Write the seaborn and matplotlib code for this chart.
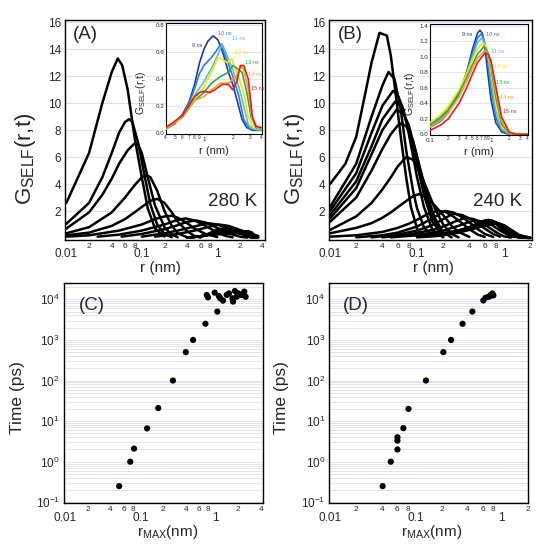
import numpy as np
import pandas as pd
import matplotlib
matplotlib.use("Agg")
import matplotlib.pyplot as plt
import matplotlib.ticker as mticker
import seaborn as sns

# ---------------------------------------------------------------------
# Data
# ---------------------------------------------------------------------
# (A) 280 K, main panel: G_self(r,t) curves, short times
a_r = [
    [0.01, 0.02, 0.03, 0.04, 0.048, 0.055, 0.065, 0.08, 0.1, 0.12, 0.15, 0.2],
    [0.01, 0.02, 0.03, 0.04, 0.05, 0.06, 0.068, 0.075, 0.09, 0.11, 0.13, 0.16, 0.2, 0.25],
    [0.01, 0.02, 0.03, 0.04, 0.05, 0.065, 0.08, 0.09, 0.1, 0.12, 0.15, 0.2, 0.25, 0.3],
    [0.01, 0.02, 0.04, 0.06, 0.08, 0.1, 0.115, 0.13, 0.16, 0.2, 0.25, 0.3, 0.4],
    [0.01, 0.02, 0.04, 0.06, 0.08, 0.1, 0.13, 0.16, 0.2, 0.25, 0.3, 0.4, 0.5, 0.6],
    [0.01, 0.02, 0.05, 0.1, 0.15, 0.2, 0.25, 0.3, 0.4, 0.5, 0.7, 1.0],
    [0.026, 0.05, 0.1, 0.2, 0.3, 0.38, 0.5, 0.7, 1.0, 1.3, 1.6],
    [0.054, 0.1, 0.2, 0.3, 0.4, 0.52, 0.7, 1.0, 1.4, 2.0, 2.5],
    [0.1, 0.2, 0.3, 0.5, 0.75, 1.0, 1.5, 2.0, 2.7, 3.4],
    [0.15, 0.3, 0.5, 0.8, 1.05, 1.4, 2.0, 2.7, 3.5],
]
a_g = [
    [2.6, 6.3, 10.0, 12.3, 13.3, 12.8, 11.0, 7.5, 4.5, 2.2, 0.7, 0.1],
    [1.05, 2.6, 4.5, 6.3, 7.8, 8.6, 8.8, 8.6, 7.0, 4.5, 2.5, 1.0, 0.3, 0.05],
    [0.7, 1.9, 3.2, 4.4, 5.5, 6.5, 7.0, 6.9, 6.3, 4.5, 2.4, 0.8, 0.25, 0.05],
    [0.35, 0.8, 1.9, 3.0, 3.9, 4.5, 4.65, 4.5, 3.5, 2.0, 0.9, 0.35, 0.05],
    [0.2, 0.4, 0.9, 1.4, 1.9, 2.3, 2.75, 2.9, 2.6, 1.9, 1.2, 0.5, 0.15, 0.03],
    [0.1, 0.2, 0.55, 1.0, 1.4, 1.6, 1.65, 1.5, 1.1, 0.7, 0.3, 0.07],
    [0.1, 0.25, 0.55, 1.0, 1.35, 1.45, 1.3, 0.9, 0.4, 0.15, 0.05],
    [0.1, 0.3, 0.65, 0.95, 1.2, 1.3, 1.15, 0.75, 0.35, 0.1, 0.03],
    [0.1, 0.35, 0.55, 0.85, 1.1, 1.0, 0.65, 0.35, 0.12, 0.05],
    [0.1, 0.3, 0.55, 0.85, 1.0, 0.9, 0.6, 0.35, 0.15],
]

# (A) inset, 9 ns ... 15 ns
ns_labels = ["9 ns", "10 ns", "11 ns", "12 ns", "13 ns", "14 ns", "15 ns"]
ns_colors = ["#27379b", "#2f7fd6", "#4fc0e8", "#f2e200", "#2ea84a", "#f5a623", "#e0201b"]
ia_r = [
    [0.4, 0.5, 0.6, 0.7, 0.8, 0.9, 1.0, 1.1, 1.25, 1.4, 1.6, 1.8, 2.0, 2.2, 2.5, 2.8, 3.2, 4.0],
    [0.4, 0.6, 0.7, 0.8, 0.9, 1.0, 1.2, 1.35, 1.5, 1.7, 2.0, 2.3, 2.6, 3.0, 4.0],
    [0.4, 0.6, 0.8, 1.0, 1.2, 1.4, 1.55, 1.8, 2.0, 2.3, 2.6, 2.9, 3.3, 4.0],
    [0.4, 0.6, 0.8, 1.0, 1.2, 1.4, 1.6, 1.75, 1.95, 2.2, 2.6, 2.9, 3.3, 4.0],
    [0.4, 0.6, 0.8, 1.0, 1.2, 1.5, 1.8, 2.0, 2.2, 2.5, 2.8, 3.1, 3.5, 4.0],
    [0.4, 0.6, 0.8, 1.0, 1.2, 1.5, 1.8, 2.0, 2.2, 2.4, 2.6, 2.9, 3.2, 3.6, 4.0],
    [0.4, 0.6, 0.8, 0.9, 1.0, 1.15, 1.3, 1.55, 1.8, 2.0, 2.2, 2.4, 2.6, 2.9, 3.2, 3.5, 4.0],
]
ia_g = [
    [0.03, 0.07, 0.14, 0.23, 0.36, 0.52, 0.62, 0.68, 0.72, 0.69, 0.58, 0.45, 0.36, 0.25, 0.1, 0.04, 0.02, 0.02],
    [0.03, 0.13, 0.22, 0.33, 0.44, 0.5, 0.56, 0.61, 0.66, 0.56, 0.42, 0.28, 0.1, 0.03, 0.02],
    [0.03, 0.12, 0.28, 0.38, 0.48, 0.58, 0.66, 0.55, 0.47, 0.35, 0.2, 0.06, 0.03, 0.02],
    [0.03, 0.12, 0.25, 0.34, 0.45, 0.56, 0.54, 0.52, 0.55, 0.45, 0.3, 0.12, 0.04, 0.03],
    [0.03, 0.12, 0.24, 0.3, 0.37, 0.42, 0.45, 0.5, 0.48, 0.45, 0.3, 0.12, 0.04, 0.03],
    [0.03, 0.12, 0.24, 0.27, 0.32, 0.37, 0.37, 0.4, 0.42, 0.5, 0.47, 0.32, 0.1, 0.04, 0.03],
    [0.04, 0.13, 0.27, 0.3, 0.31, 0.3, 0.32, 0.36, 0.36, 0.32, 0.38, 0.5, 0.5, 0.4, 0.12, 0.05, 0.04],
]
ia_lab_r = [0.86, 1.64, 2.28, 2.48, 3.12, 3.39, 3.62]
ia_lab_g = [0.65, 0.74, 0.70, 0.60, 0.52, 0.43, 0.33]

# (B) 240 K, main panel
b_r = [
    [0.01, 0.015, 0.02, 0.025, 0.03, 0.037, 0.045, 0.05, 0.056, 0.065, 0.075, 0.085, 0.1, 0.12],
    [0.01, 0.02, 0.03, 0.04, 0.047, 0.055, 0.065, 0.075, 0.09, 0.1, 0.12, 0.15],
    [0.01, 0.02, 0.03, 0.04, 0.053, 0.06, 0.07, 0.08, 0.1, 0.12, 0.15, 0.2],
    [0.01, 0.02, 0.03, 0.04, 0.056, 0.065, 0.08, 0.1, 0.12, 0.15, 0.2],
    [0.01, 0.02, 0.03, 0.04, 0.058, 0.07, 0.08, 0.1, 0.12, 0.15, 0.2],
    [0.01, 0.02, 0.03, 0.04, 0.05, 0.063, 0.075, 0.09, 0.11, 0.13, 0.16, 0.2, 0.25],
    [0.01, 0.02, 0.03, 0.04, 0.05, 0.06, 0.075, 0.09, 0.11, 0.13, 0.16, 0.2, 0.25, 0.3],
    [0.01, 0.02, 0.03, 0.04, 0.05, 0.07, 0.09, 0.105, 0.12, 0.15, 0.2, 0.25, 0.3, 0.4],
    [0.01, 0.02, 0.04, 0.06, 0.08, 0.1, 0.13, 0.17, 0.21, 0.26, 0.3, 0.4, 0.5, 0.6],
    [0.02, 0.04, 0.06, 0.1, 0.15, 0.21, 0.26, 0.33, 0.4, 0.5, 0.6, 0.75],
    [0.03, 0.06, 0.1, 0.15, 0.2, 0.26, 0.33, 0.4, 0.5, 0.6, 0.75, 0.9],
    [0.04, 0.08, 0.15, 0.2, 0.28, 0.36, 0.45, 0.55, 0.7, 0.85, 1.0, 1.2],
    [0.05, 0.1, 0.2, 0.3, 0.4, 0.47, 0.6, 0.75, 0.9, 1.1, 1.3],
]
b_g = [
    [4.0, 5.5, 7.5, 10.5, 13.0, 15.2, 15.0, 13.5, 11.0, 7.5, 4.5, 2.3, 0.7, 0.1],
    [2.3, 5.5, 9.0, 11.3, 12.3, 11.8, 9.5, 6.5, 3.5, 2.2, 0.8, 0.15],
    [2.0, 4.8, 7.8, 9.8, 10.9, 10.6, 9.5, 7.8, 4.5, 2.3, 0.6, 0.05],
    [1.7, 4.2, 6.8, 8.8, 10.1, 9.8, 8.2, 5.5, 3.2, 1.2, 0.15],
    [1.45, 3.7, 6.2, 8.0, 9.5, 9.2, 8.4, 6.0, 3.8, 1.6, 0.25],
    [1.2, 3.0, 5.0, 6.6, 7.7, 8.5, 8.3, 7.2, 5.0, 3.2, 1.5, 0.4, 0.05],
    [0.6, 1.6, 2.6, 3.6, 4.5, 5.3, 6.0, 5.8, 4.8, 3.6, 2.2, 1.0, 0.3, 0.05],
    [0.35, 0.75, 1.1, 1.5, 1.9, 2.6, 3.1, 3.25, 3.1, 2.6, 1.7, 0.9, 0.45, 0.08],
    [0.1, 0.2, 0.45, 0.75, 1.05, 1.35, 1.75, 2.0, 1.95, 1.6, 1.3, 0.65, 0.25, 0.08],
    [0.05, 0.2, 0.4, 0.85, 1.45, 2.0, 1.9, 1.55, 1.15, 0.65, 0.3, 0.08],
    [0.05, 0.25, 0.55, 0.95, 1.4, 1.8, 1.7, 1.45, 1.05, 0.7, 0.3, 0.1],
    [0.05, 0.25, 0.6, 0.85, 1.25, 1.5, 1.4, 1.15, 0.7, 0.35, 0.12, 0.03],
    [0.05, 0.2, 0.55, 0.9, 1.2, 1.3, 1.2, 0.9, 0.55, 0.25, 0.08],
]

# (B) inset, 9 ns ... 15 ns
ib_r = [
    [0.1, 0.15, 0.2, 0.3, 0.4, 0.5, 0.6, 0.66, 0.72, 0.8, 0.9, 1.0, 1.2, 1.5, 2.0, 4.0],
    [0.1, 0.15, 0.2, 0.3, 0.4, 0.5, 0.6, 0.69, 0.75, 0.85, 1.0, 1.2, 1.5, 2.0, 4.0],
    [0.1, 0.15, 0.2, 0.3, 0.4, 0.5, 0.6, 0.71, 0.8, 0.9, 1.0, 1.2, 1.5, 2.0, 4.0],
    [0.1, 0.15, 0.2, 0.3, 0.4, 0.5, 0.6, 0.74, 0.85, 1.0, 1.2, 1.5, 2.0, 4.0],
    [0.1, 0.15, 0.2, 0.3, 0.4, 0.5, 0.6, 0.77, 0.9, 1.0, 1.2, 1.5, 2.0, 4.0],
    [0.1, 0.15, 0.2, 0.3, 0.4, 0.5, 0.6, 0.8, 0.9, 1.0, 1.2, 1.5, 2.0, 4.0],
    [0.1, 0.15, 0.2, 0.3, 0.4, 0.5, 0.6, 0.8, 0.9, 1.0, 1.2, 1.5, 2.0, 2.5, 4.0],
]
ib_g = [
    [0.09, 0.17, 0.28, 0.52, 0.8, 1.1, 1.3, 1.34, 1.3, 1.1, 0.75, 0.45, 0.15, 0.03, 0.0, 0.0],
    [0.1, 0.19, 0.3, 0.53, 0.79, 1.05, 1.24, 1.29, 1.25, 1.05, 0.6, 0.22, 0.05, 0.0, 0.0],
    [0.12, 0.22, 0.32, 0.54, 0.78, 1.0, 1.18, 1.24, 1.18, 1.0, 0.72, 0.3, 0.07, 0.01, 0.0],
    [0.15, 0.25, 0.36, 0.57, 0.78, 0.97, 1.1, 1.18, 1.12, 0.82, 0.4, 0.1, 0.01, 0.0],
    [0.12, 0.22, 0.32, 0.53, 0.73, 0.9, 1.03, 1.13, 1.05, 0.88, 0.48, 0.13, 0.01, 0.0],
    [0.09, 0.18, 0.28, 0.48, 0.68, 0.85, 0.98, 1.08, 1.04, 0.92, 0.55, 0.17, 0.02, 0.0],
    [0.05, 0.12, 0.2, 0.4, 0.6, 0.78, 0.92, 1.05, 1.03, 0.95, 0.62, 0.22, 0.03, 0.0, 0.0],
]
ib_lab_r = [0.40, 1.09, 1.31, 1.45, 1.59, 1.81, 2.05]
ib_lab_g = [1.29, 1.28, 1.06, 0.87, 0.67, 0.47, 0.30]

# (C) 280 K: r_max vs time
c_rmax = [0.052, 0.073, 0.082, 0.122, 0.172, 0.27, 0.40, 0.50, 0.73, 1.05,
          0.76, 0.79, 0.97, 1.1, 1.15, 1.25, 1.4, 1.5, 1.67, 1.7, 1.8, 1.9,
          2.0, 2.2, 2.4, 2.5]
c_time = [0.25, 1.0, 2.1, 6.6, 21, 100, 500, 1000, 2500, 5000,
          12800, 11200, 14600, 12000, 10600, 9300, 12800, 14000, 10600, 8800,
          16000, 11600, 14000, 12800, 15500, 11600]

# (D) 240 K: r_max vs time
d_rmax = [0.041, 0.051, 0.061, 0.061, 0.061, 0.0715, 0.082, 0.131, 0.209, 0.257,
          0.35, 0.455, 0.61, 0.65, 0.70, 0.73, 0.75, 0.78, 0.80]
d_time = [0.25, 1.0, 2.0, 3.3, 4.0, 6.7, 20, 100, 500, 1000,
          2500, 5000, 9400, 11000, 11500, 12000, 13000, 14000, 12500]

# ---------------------------------------------------------------------
# Style
# ---------------------------------------------------------------------
sns.set_style("white")
plt.rcParams["font.family"] = ["Liberation Sans", "DejaVu Sans"]
plt.rcParams["mathtext.fontset"] = "custom"
plt.rcParams["mathtext.rm"] = "Liberation Sans"
plt.rcParams["mathtext.it"] = "Liberation Sans:italic"
plt.rcParams["mathtext.default"] = "regular"

GRID = "#dcdfee"


def minor_even(v, pos):
    d = int(round(v / 10 ** np.floor(np.log10(v) + 1e-9)))
    return str(d) if d in (2, 4, 6, 8) else ""


def minor_all(v, pos):
    d = int(round(v / 10 ** np.floor(np.log10(v) + 1e-9)))
    return str(d) if d != 1 else ""


def log_x(ax, fmt, major_size=8.5, minor_size=6, length=3, major_pad=6, minor_pad=2):
    ax.set_xscale("log")
    ax.xaxis.set_major_locator(mticker.LogLocator(base=10, numticks=10))
    ax.xaxis.set_major_formatter(mticker.FuncFormatter(lambda v, p: "%g" % v))
    ax.xaxis.set_minor_locator(mticker.LogLocator(base=10, subs=np.arange(2, 10), numticks=20))
    ax.xaxis.set_minor_formatter(mticker.FuncFormatter(fmt))
    ax.tick_params(axis="x", which="major", labelsize=major_size, direction="in",
                   length=length + 1, width=0.8, pad=major_pad)
    ax.tick_params(axis="x", which="minor", labelsize=minor_size, direction="in",
                   length=length, width=0.6, pad=minor_pad)


def frame(ax, lw=1.0):
    for s in ax.spines.values():
        s.set_visible(True)
        s.set_color("black")
        s.set_linewidth(lw)


def long_df(rs, gs, names=None, rmax=None):
    rows = []
    for i, (rr, gg) in enumerate(zip(rs, gs)):
        name = names[i] if names else i
        for r, g in zip(rr, gg):
            if rmax is None or r <= rmax:
                rows.append((name, r, g))
    return pd.DataFrame(rows, columns=["curve", "r", "G"])


fig = plt.figure(figsize=(5.5, 5.46), dpi=100)
axA = fig.add_axes([0.1182, 0.5604, 0.3636, 0.4029])
axB = fig.add_axes([0.5987, 0.5604, 0.3680, 0.4029])
axC = fig.add_axes([0.1164, 0.0782, 0.3624, 0.4029])
axD = fig.add_axes([0.5987, 0.0782, 0.3618, 0.4029])
inA = fig.add_axes([0.3013, 0.7546, 0.1745, 0.2033])
inB = fig.add_axes([0.7818, 0.7527, 0.1776, 0.2033])

# ---------------------------------------------------------------------
# (A) and (B) main panels
# ---------------------------------------------------------------------
panels = [
    (axA, a_r + ia_r, a_g + ia_g, 3.5, (0.0096, 4.3), "(A)", "280 K", 0.96, -0.135, 0.475),
    (axB, b_r + ib_r, b_g + ib_g, 2.0, (0.0098, 2.08), "(B)", "240 K", 0.952, -0.11, 0.515),
]
for ax, rs, gs, rlim, xl, tag, temp, tx, ylx, xlx in panels:
    frame(ax)
    ax.set_xscale("log")
    for y in range(2, 17, 2):
        ax.axhline(y, color=GRID, lw=0.8, zorder=0)
    df = long_df(rs, gs, rmax=rlim)
    sns.lineplot(data=df, x="r", y="G", units="curve", estimator=None, sort=False,
                 color="black", lw=1.8, legend=False, ax=ax, zorder=3)
    log_x(ax, minor_even)
    ax.set_xlim(*xl)
    ax.set_ylim(-0.15, 16.15)
    ax.set_yticks(range(2, 17, 2))
    ax.tick_params(axis="y", labelsize=8.5, direction="in", length=4, width=0.8, pad=3)
    ax.set_xlabel("r (nm)", fontsize=11)
    ax.xaxis.set_label_coords(xlx, -0.095)
    ax.set_ylabel(r"G$_{\mathregular{SELF}}$(r,t)", fontsize=16)
    ax.yaxis.set_label_coords(ylx, 0.37)
    ax.text(0.04, 0.975, tag, transform=ax.transAxes, fontsize=13.5, ha="left", va="top")
    ax.text(tx, 0.173, temp, transform=ax.transAxes, fontsize=13.5, ha="right", va="center")

# ---------------------------------------------------------------------
# insets
# ---------------------------------------------------------------------
insets = [
    (inA, ia_r, ia_g, ia_lab_r, ia_lab_g, (0.4, 4.0), (-0.007, 0.815), np.arange(0, 0.81, 0.2), -0.18),
    (inB, ib_r, ib_g, ib_lab_r, ib_lab_g, (0.1, 4.0), (-0.009, 1.42), np.arange(0, 1.41, 0.2), -0.13),
]
pal = dict(zip(ns_labels, ns_colors))
for ax, rs, gs, lr, lg, xl, yl, yt, ylx in insets:
    ax.set_facecolor("white")
    frame(ax, 0.8)
    ax.set_xscale("log")
    for y in yt[1:]:
        ax.axhline(y, color=GRID, lw=0.6, zorder=0)
    df = long_df(rs, gs, names=ns_labels)
    sns.lineplot(data=df, x="r", y="G", hue="curve", palette=pal, estimator=None,
                 sort=False, lw=1.2, legend=False, ax=ax, zorder=3)
    log_x(ax, minor_all, major_size=4.5, minor_size=3.5, length=1.5, major_pad=2.5, minor_pad=1)
    ax.set_xlim(*xl)
    ax.set_ylim(*yl)
    ax.set_yticks(yt)
    ax.yaxis.set_major_formatter(mticker.FormatStrFormatter("%.1f"))
    ax.tick_params(axis="y", labelsize=4.5, direction="in", length=2, width=0.6, pad=1)
    for name, col, x, y in zip(ns_labels, ns_colors, lr, lg):
        ax.text(x, y, name, color=col, fontsize=4, ha="center", va="center")
    ax.set_xlabel("r (nm)", fontsize=8)
    ax.xaxis.set_label_coords(0.5, -0.11)
    ax.set_ylabel(r"G$_{\mathregular{SELF}}$(r,t)", fontsize=7.5)
    ax.yaxis.set_label_coords(ylx, 0.37)

# ---------------------------------------------------------------------
# (C) and (D) r_max vs time
# ---------------------------------------------------------------------
scat = [
    (axC, c_rmax, c_time, (0.0096, 4.3), "(C)", 0.075, -0.196, 0.52),
    (axD, d_rmax, d_time, (0.0098, 2.04), "(D)", 0.066, -0.2, 0.515),
]
for ax, xs, ts, xl, tag, tagx, ylx, xlx in scat:
    frame(ax)
    ax.set_xscale("log")
    ax.set_yscale("log")
    for e in range(-1, 5):
        for m in range(1, 10):
            ax.axhline(m * 10.0 ** e, color=GRID, lw=0.6, zorder=0)
    sns.scatterplot(x=xs, y=ts, color="black", s=20, edgecolor="none", ax=ax, zorder=3)
    log_x(ax, minor_even)
    ax.yaxis.set_major_locator(mticker.LogLocator(base=10, numticks=10))
    ax.yaxis.set_major_formatter(mticker.LogFormatterSciNotation())
    ax.yaxis.set_minor_locator(mticker.LogLocator(base=10, subs=np.arange(2, 10), numticks=20))
    ax.yaxis.set_minor_formatter(mticker.NullFormatter())
    ax.tick_params(axis="y", which="major", labelsize=8.5, direction="in", length=4, width=0.8, pad=3)
    ax.tick_params(axis="y", which="minor", direction="in", length=2, width=0.6)
    ax.set_xlim(*xl)
    ax.set_ylim(0.0944, 2.48e4)
    ax.set_xlabel(r"r$_{\mathregular{MAX}}$(nm)", fontsize=11)
    ax.xaxis.set_label_coords(xlx, -0.09)
    ax.set_ylabel("Time (ps)", fontsize=12.5)
    ax.yaxis.set_label_coords(ylx, 0.48)
    ax.text(tagx, 0.94, tag, transform=ax.transAxes, fontsize=13.5, ha="left", va="top")

fig.savefig("out.png", dpi=100)
